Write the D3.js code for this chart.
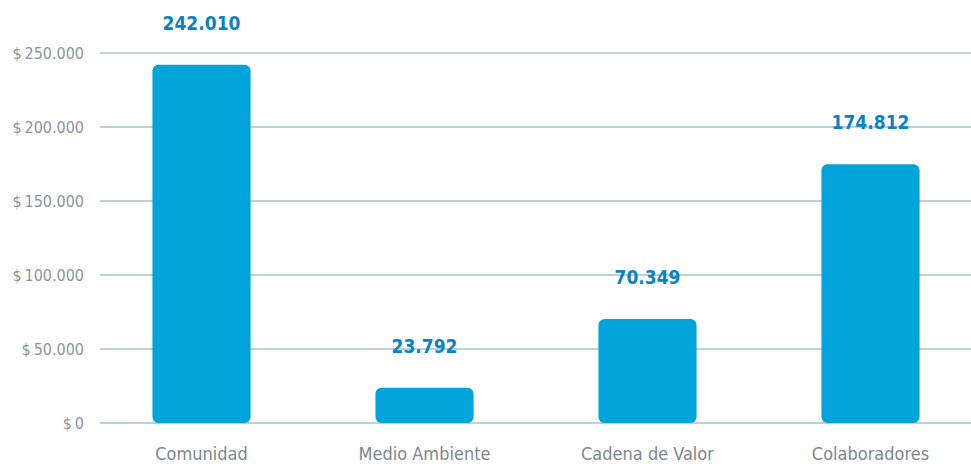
<!DOCTYPE html>
<html>
<head>
<meta charset="UTF-8" />
<title>Inversión por grupo</title>
<style>
	html, body { margin: 0; padding: 0; background: #fff; overflow: hidden; }
	.grid line { stroke: #bccfdb; stroke-width: 2px; }
	.tick-label { fill: #8a959c; font-family: "DejaVu Sans Condensed", sans-serif; font-size: 16px; }
	.cat-label { fill: #7d878e; font-family: "DejaVu Sans Condensed", sans-serif; font-size: 18px; }
	.value-label { fill: #0b82c4; font-family: "DejaVu Sans Condensed", sans-serif; font-size: 19px; font-weight: bold; }
	.bar { fill: #00a4db; }
</style>
<script src="https://d3js.org/d3.v7.min.js"></script>
</head>
<body>
<svg></svg>
<script>
const categories = ['Comunidad', 'Medio Ambiente', 'Cadena de Valor', 'Colaboradores'];
const values = [242010, 23792, 70349, 174812];
const tickValues = [0, 50000, 100000, 150000, 200000, 250000];

const width = 971, height = 464;
const svg = d3.select('svg').attr('width', width).attr('height', height);

const locale = d3.formatLocale({ decimal: ',', thousands: '.', grouping: [3], currency: ['$ ', ''] });
const fmt = locale.format(',d');

const y = d3.scaleLinear().domain([0, 250000]).range([423, 53]);
const x = d3.scaleBand().domain(categories).range([90, 982]).paddingInner(0.56).paddingOuter(0.28);

const grid = svg.append('g').attr('class', 'grid');
grid.selectAll('line').data(tickValues).enter().append('line')
	.attr('x1', 100).attr('x2', width)
	.attr('y1', d => y(d)).attr('y2', d => y(d));

svg.append('g').selectAll('text').data(tickValues).enter().append('text')
	.attr('class', 'tick-label')
	.attr('x', 84).attr('y', d => y(d))
	.attr('dy', '0.35em')
	.attr('text-anchor', 'end')
	.text(d => '$\u2009' + fmt(d));

svg.append('g').selectAll('rect').data(values).enter().append('rect')
	.attr('class', 'bar')
	.attr('x', (d, i) => x(categories[i]))
	.attr('width', x.bandwidth())
	.attr('y', d => y(d))
	.attr('height', d => y(0) - y(d))
	.attr('rx', 6).attr('ry', 6);

svg.append('g').selectAll('text').data(values).enter().append('text')
	.attr('class', 'value-label')
	.attr('x', (d, i) => x(categories[i]) + x.bandwidth() / 2)
	.attr('y', d => y(d) - 35)
	.attr('text-anchor', 'middle')
	.text(d => fmt(d));

svg.append('g').selectAll('text').data(categories).enter().append('text')
	.attr('class', 'cat-label')
	.attr('x', d => x(d) + x.bandwidth() / 2)
	.attr('y', 460)
	.attr('text-anchor', 'middle')
	.text(d => d);
</script>
</body>
</html>
